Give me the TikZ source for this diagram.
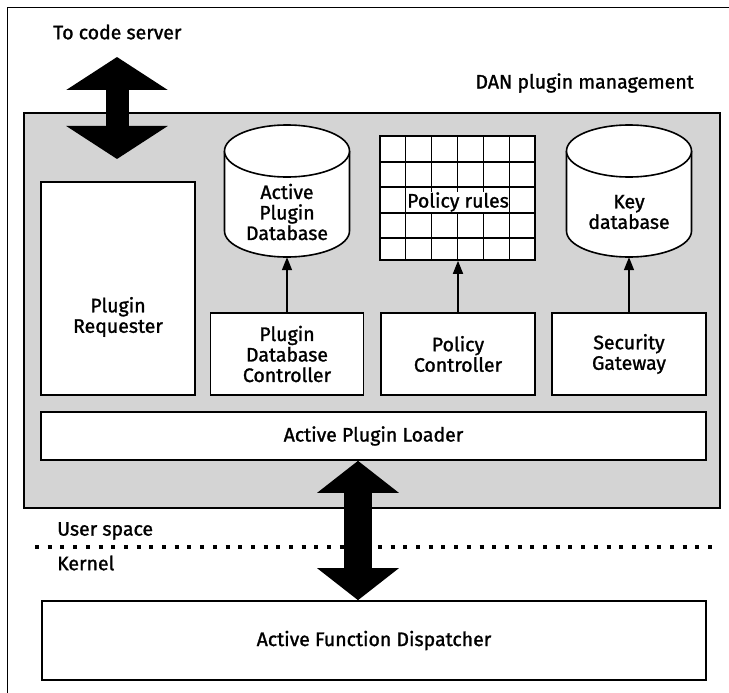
\documentclass[tikz,border=0pt]{standalone}
\usepackage{fontspec}
\setmainfont{Fira Sans}[UprightFeatures={FakeBold=1.3}]
\usetikzlibrary{arrows.meta}
\begin{document}
\begin{tikzpicture}[x=1pt,y=-1pt,
  lbl/.style={font=\fontsize{19.5}{20.5}\selectfont, align=center, inner sep=0pt},
  box/.style={draw=black, line width=1.6pt, fill=white, inner sep=0pt},
  frameline/.style={line width=1.6pt},
  toparrow/.style={line width=23pt, {Triangle[width=100pt,length=33pt]}-{Triangle[width=100pt,length=33pt]}},
  lowarrow/.style={line width=28pt, {Triangle[width=80pt,length=32pt]}-{Triangle[width=80pt,length=32pt]}},
  smallarrow/.style={line width=1.6pt, -{Triangle[width=10pt,length=13pt]}},
  shade/.style={draw=black, line width=1.6pt, fill=black!17},
]
\useasboundingbox (0,0) rectangle (729,693);
\fill[white] (0,0) rectangle (729,693);
% outer frame
\draw[line width=1pt] (7,693) -- (7,8) -- (729,8);

% texts at top
\node[lbl, anchor=west] (tcs) at (53,32) {To code server};
\node[lbl, anchor=east] (dan) at (694,83) {DAN plugin management};

% shaded management area
\node[shade, minimum width=696pt, minimum height=395pt, inner sep=0pt] (mgmt) at (372,310.5) {};

% top big arrow
\coordinate (ta1) at (117,57);
\coordinate (ta2) at (117,159);
\draw[toparrow] (ta1) -- (ta2);

% Plugin requester
\node[box, minimum width=154pt, minimum height=213pt] (req) at (118,288.5) {};
\node[lbl] (reqt) at (118,317) {Plugin\\Requester};

% Active Plugin Database cylinder
\node[minimum width=125pt, minimum height=132pt, inner sep=0pt] (apd) at (287,191) {};
\draw[frameline, fill=white] (224.5,151) -- (224.5,231) arc[start angle=180, end angle=0, x radius=62.5, y radius=26] -- (349.5,151);
\draw[frameline, fill=white] (287,151) ellipse [x radius=62.5, y radius=26];
\node[lbl] (apdt) at (287,212) {Active\\Plugin\\Database};

% Key database cylinder
\node[minimum width=125pt, minimum height=132pt, inner sep=0pt] (kdb) at (629,191) {};
\draw[frameline, fill=white] (566.5,151) -- (566.5,231) arc[start angle=180, end angle=0, x radius=62.5, y radius=26] -- (691.5,151);
\draw[frameline, fill=white] (629,151) ellipse [x radius=62.5, y radius=26];
\node[lbl] (kdbt) at (629,212) {Key\\database};

% Policy rules grid
\node[box, minimum width=155pt, minimum height=124pt] (grid) at (457.5,198) {};
\foreach \gx in {405.83,431.67,457.5,483.33,509.17}
  \draw[line width=1.3pt] (\gx,136) -- (\gx,260);
\foreach \gy in {162,187,213,238}
  \draw[line width=1.3pt] (380,\gy) -- (535,\gy);
\node[lbl, fill=white, inner sep=0.5pt] (gridt) at (458,202) {Policy rules};

% controller boxes
\node[box, minimum width=153pt, minimum height=82pt, lbl] (pdc) at (287,354) {Plugin\\Database\\Controller};
\node[box, minimum width=154pt, minimum height=82pt, lbl] (pc) at (458,354) {Policy\\Controller};
\node[box, minimum width=154pt, minimum height=82pt, lbl] (sg) at (629,354) {Security\\Gateway};

\draw[smallarrow] (pdc.north) -- (pdc.north |- apd.south);
\draw[smallarrow] (pc.north) -- (pc.north |- grid.south);
\draw[smallarrow] (sg.north) -- (sg.north |- kdb.south);

% loader
\node[box, minimum width=665pt, minimum height=48pt, lbl] (loader) at (373.5,436) {Active Plugin Loader};

% user space / kernel
\node[lbl, anchor=west] (us) at (57,531) {User space};
\node[lbl, anchor=west] (kn) at (57,563) {Kernel};
\coordinate (dl1) at (35,546.5);
\coordinate (dl2) at (717,546.5);
\draw[line width=4pt, dash pattern=on 4pt off 8.7pt] (dl1) -- (dl2);

% dispatcher
\node[box, minimum width=664pt, minimum height=79pt, lbl] (disp) at (374,640.5) {Active Function Dispatcher};

% lower big arrow
\coordinate (ax) at (358,0);
\draw[lowarrow] (loader.south -| ax) -- (disp.north -| ax);
\end{tikzpicture}
\end{document}
